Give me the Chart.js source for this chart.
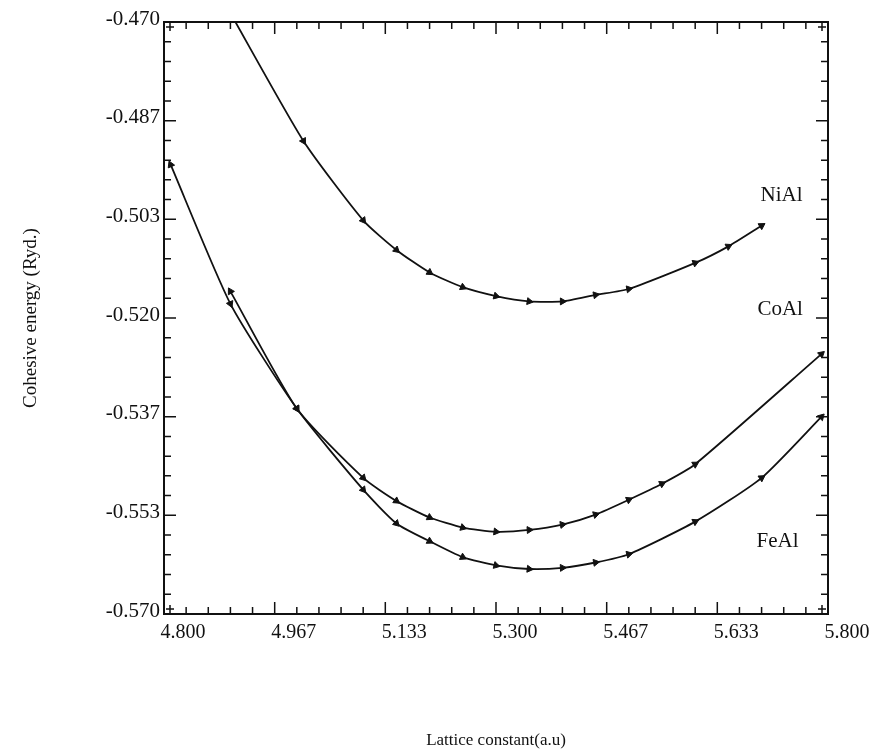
<!DOCTYPE html>
<html>
<head>
<meta charset="utf-8">
<script src="https://cdn.jsdelivr.net/npm/chart.js@4.4.1/dist/chart.umd.min.js"></script>
<style>
  body { margin: 0; background: #fff; }
  canvas { display: block; }
</style>
</head>
<body>
<canvas id="energyChart" width="869" height="754"></canvas>
<script>
// tick values and labels
const xTickVals = [4.8, 4.9667, 5.1333, 5.3, 5.4667, 5.6333, 5.8];
const xTickLabels = ['4.800', '4.967', '5.133', '5.300', '5.467', '5.633', '5.800'];
const yTickVals = [-0.570, -0.5533, -0.5367, -0.52, -0.5033, -0.4867, -0.470];
const yTickLabels = ['-0.570', '-0.553', '-0.537', '-0.520', '-0.503', '-0.487', '-0.470'];

// series
const niAlX = [4.9, 5.01, 5.1, 5.15, 5.2, 5.25, 5.3, 5.35, 5.4, 5.45, 5.5, 5.6, 5.65, 5.7];
const niAlY = [-0.4685, -0.4901, -0.5035, -0.5085, -0.5123, -0.5148, -0.5163, -0.5172, -0.5172, -0.5161, -0.5151, -0.5107, -0.5079, -0.5044];

const coAlX = [4.9, 5.0, 5.1, 5.15, 5.2, 5.25, 5.3, 5.35, 5.4, 5.45, 5.5, 5.55, 5.6, 5.79];
const coAlY = [-0.5155, -0.5353, -0.5470, -0.5509, -0.5537, -0.5554, -0.5561, -0.5558, -0.5549, -0.5532, -0.5507, -0.5480, -0.5447, -0.5261];

const feAlX = [4.81, 4.9, 5.0, 5.1, 5.15, 5.2, 5.25, 5.3, 5.35, 5.4, 5.45, 5.5, 5.6, 5.7, 5.79];
const feAlY = [-0.4941, -0.5176, -0.5353, -0.5490, -0.5547, -0.5577, -0.5604, -0.5618, -0.5624, -0.5622, -0.5613, -0.5599, -0.5544, -0.5470, -0.5367];

const seriesNames = ['NiAl', 'CoAl', 'FeAl'];
// where the curve names sit, in data units
const nameAnchors = [[5.73, -0.4993], [5.728, -0.5185], [5.724, -0.5578]];

const ink = '#111';
const serif = "'Liberation Serif', 'DejaVu Serif', serif";

const toPoints = (xs, ys) => xs.map((x, i) => ({ x: x, y: ys[i] }));

// arrow heads follow the direction of the curve
function arrowAngle(ctx) {
    if (ctx.dataIndex === undefined) return 0;
    const pts = ctx.dataset.data;
    const i = ctx.dataIndex;
    const xs = ctx.chart.scales.x;
    const ys = ctx.chart.scales.y;
    const a = i === 0 ? pts[1] : pts[i - 1];
    const b = i === 0 ? pts[0] : pts[i];
    const dx = xs.getPixelForValue(b.x) - xs.getPixelForValue(a.x);
    const dy = ys.getPixelForValue(b.y) - ys.getPixelForValue(a.y);
    return Math.atan2(dy, dx) * 180 / Math.PI + 90;
}

const lineStyle = {
    borderColor: ink,
    backgroundColor: ink,
    borderWidth: 1.8,
    pointStyle: 'triangle',
    pointRadius: 4,
    pointBorderWidth: 1,
    pointRotation: arrowAngle,
    tension: 0.2,
    fill: false,
};

function subdivide(vals, n) {
    const out = [];
    for (let i = 0; i < vals.length - 1; i++) {
        for (let k = 1; k < n; k++) out.push(vals[i] + (vals[i + 1] - vals[i]) * k / n);
    }
    return out;
}

// frame, inward tick marks on all four sides, and curve names
const framePlugin = {
    id: 'frame',
    afterDraw(chart) {
        const { ctx, chartArea: a, scales } = chart;
        ctx.save();
        ctx.strokeStyle = ink;
        ctx.lineWidth = 2;
        ctx.strokeRect(a.left, a.top, a.right - a.left, a.bottom - a.top);

        ctx.lineWidth = 1.5;
        const drawX = (v, len) => {
            const px = scales.x.getPixelForValue(v);
            ctx.beginPath();
            ctx.moveTo(px, a.bottom); ctx.lineTo(px, a.bottom - len);
            ctx.moveTo(px, a.top); ctx.lineTo(px, a.top + len);
            ctx.stroke();
        };
        const drawY = (v, len) => {
            const py = scales.y.getPixelForValue(v);
            ctx.beginPath();
            ctx.moveTo(a.left, py); ctx.lineTo(a.left + len, py);
            ctx.moveTo(a.right, py); ctx.lineTo(a.right - len, py);
            ctx.stroke();
        };
        xTickVals.forEach(v => drawX(v, 12));
        subdivide(xTickVals, 5).forEach(v => drawX(v, 7));
        yTickVals.forEach(v => drawY(v, 12));
        subdivide(yTickVals, 5).forEach(v => drawY(v, 7));

        // small crosses at the corners, as in the plotted original
        [[a.left, a.top], [a.right, a.top], [a.left, a.bottom], [a.right, a.bottom]].forEach(([cx, cy]) => {
            const sx = cx === a.left ? 6 : -6;
            const sy = cy === a.top ? 5 : -5;
            ctx.beginPath();
            ctx.moveTo(cx + sx - 4, cy + sy); ctx.lineTo(cx + sx + 4, cy + sy);
            ctx.moveTo(cx + sx, cy + sy - 4); ctx.lineTo(cx + sx, cy + sy + 4);
            ctx.stroke();
        });

        ctx.fillStyle = ink;
        ctx.font = '21px ' + serif;
        ctx.textAlign = 'center';
        ctx.textBaseline = 'middle';
        seriesNames.forEach((name, i) => {
            const [lx, ly] = nameAnchors[i];
            ctx.fillText(name, scales.x.getPixelForValue(lx), scales.y.getPixelForValue(ly));
        });
        ctx.restore();
    }
};

new Chart(document.getElementById('energyChart'), {
    type: 'line',
    data: {
        datasets: [
            { label: seriesNames[0], data: toPoints(niAlX, niAlY), ...lineStyle },
            { label: seriesNames[1], data: toPoints(coAlX, coAlY), ...lineStyle },
            { label: seriesNames[2], data: toPoints(feAlX, feAlY), ...lineStyle },
        ],
    },
    options: {
        responsive: false,
        animation: false,
        layout: { padding: { left: 20, right: 41, top: 22, bottom: 3 } },
        plugins: {
            legend: { display: false },
            tooltip: { enabled: false },
        },
        scales: {
            x: {
                type: 'linear',
                min: 4.8,
                max: 5.8,
                grid: { display: false, drawTicks: false, tickLength: 0 },
                border: { display: false },
                afterBuildTicks: scale => { scale.ticks = xTickVals.map(v => ({ value: v })); },
                afterFit: scale => { scale.height = 137; },
                ticks: {
                    callback: (v, i) => xTickLabels[i],
                    color: ink,
                    font: { family: serif, size: 20 },
                    labelOffset: 19,
                    padding: 7,
                    maxRotation: 0,
                    autoSkip: false,
                },
                title: {
                    display: true,
                    text: 'Lattice constant(a.u)',
                    color: ink,
                    font: { family: serif, size: 17 },
                    padding: 0,
                },
            },
            y: {
                type: 'linear',
                min: -0.570,
                max: -0.470,
                grid: { display: false, drawTicks: false, tickLength: 0 },
                border: { display: false },
                afterBuildTicks: scale => { scale.ticks = yTickVals.map(v => ({ value: v })); },
                afterFit: scale => { scale.width = 144; },
                ticks: {
                    callback: (v, i) => yTickLabels[i],
                    color: ink,
                    font: { family: serif, size: 21 },
                    labelOffset: -3,
                    padding: 4,
                    autoSkip: false,
                },
                title: {
                    display: true,
                    text: 'Cohesive energy (Ryd.)',
                    color: ink,
                    font: { family: serif, size: 19 },
                    padding: 0,
                },
            },
        },
    },
    plugins: [framePlugin],
});
</script>
</body>
</html>
